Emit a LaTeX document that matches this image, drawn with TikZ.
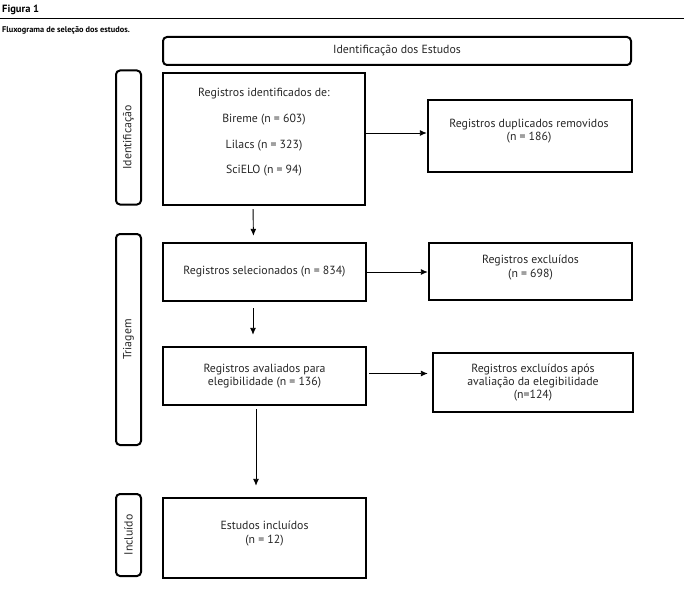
\documentclass[tikz,border=0pt]{standalone}
\usepackage{fontspec}
\setmainfont{PT Sans}
\usetikzlibrary{arrows.meta}
\begin{document}
\begin{tikzpicture}[x=1pt,y=-1pt,
  txt/.style={font=\fontsize{11.8}{13.2}\selectfont, text=black!85},
  stage/.style={draw, line width=2.4pt, inner sep=0pt, align=center, txt},
  side/.style={draw, line width=2pt, rounded corners=4pt, inner sep=0pt, minimum width=25pt, txt},
  arr/.style={line width=0.9pt, -{Latex[length=7pt,width=6pt]}}]
\useasboundingbox (0,0) rectangle (684,588);
% header
\node[anchor=base west, inner sep=0pt, font=\fontsize{10.5}{12}\bfseries\selectfont] (fig) at (2,13) {Figura 1};
\coordinate (hl) at (0,18.5);
\coordinate (hr) at (684,18.5);
\draw[line width=0.8pt] (hl) -- (hr);
\node[anchor=base west, inner sep=0pt, font=\fontsize{8.3}{10}\bfseries\selectfont] (cap) at (2,33) {Fluxograma de seleção dos estudos.};
% top box
\node[stage, line width=2pt, rounded corners=4pt, minimum width=468pt, minimum height=28pt] (top) at (397,51) {Identificação dos Estudos};
% side labels
\node[side, minimum height=134pt] (sI) at (128.5,137.5) {\rotatebox{90}{Identificação}};
\node[side, minimum height=211pt] (sT) at (128.5,339.5) {\rotatebox{90}{Triagem}};
\node[side, minimum height=82pt] (sC) at (128.5,535) {\rotatebox{90}{Incluído}};
% boxes
\node[stage, minimum width=202pt, minimum height=132pt] (ident) at (264,139) {};
\node[txt, align=center, font=\fontsize{11.8}{25.7}\selectfont] (identtxt) at (264,132.5) {Registros identificados de:\\Bireme (n = 603)\\Lilacs (n = 323)\\SciELO (n = 94)};
\node[stage, minimum width=204pt, minimum height=72pt] (dup) at (530,136) {};
\node[txt, align=center] (duptxt) at (529,131) {Registros duplicados removidos\\(n = 186)};
\node[stage, minimum width=203pt, minimum height=58pt] (sel) at (264.5,272) {Registros selecionados (n = 834)};
\node[stage, minimum width=203pt, minimum height=57pt] (exc) at (530.5,271.5) {};
\node[txt, align=center] (exctxt) at (530.5,267.5) {Registros excluídos\\(n = 698)};
\node[stage, minimum width=203pt, minimum height=58pt] (aval) at (264.5,376) {Registros avaliados para\\elegibilidade (n = 136)};
\node[stage, minimum width=200pt, minimum height=59pt] (apos) at (533,382.5) {Registros excluídos após\\avaliação da elegibilidade\\(n=124)};
\node[stage, minimum width=203pt, minimum height=80pt] (inc) at (264.5,538) {};
\node[txt, align=center] (inctxt) at (264.5,533.5) {Estudos incluídos\\(n = 12)};
% connectors
\coordinate (dupin) at ([yshift=3pt]dup.west);
\coordinate (aposin) at ([yshift=9pt]apos.west);
\draw[arr] (dupin -| ident.east) -- (dupin);
\draw[arr] (sel.east) -- (sel.east -| exc.west);
\draw[arr, shorten <=2pt, shorten >=4pt] (aposin -| aval.east) -- (aposin);
\draw[arr, shorten <=3pt, shorten >=6pt] ([xshift=-11pt]ident.south) -- ([xshift=-11pt]sel.north);
\draw[arr, shorten <=6pt, shorten >=11pt] ([xshift=-11.5pt]sel.south) -- ([xshift=-11.5pt]aval.north);
\draw[arr, shorten <=3pt, shorten >=11pt] ([xshift=-8.5pt]aval.south) -- ([xshift=-8.5pt]inc.north);
\end{tikzpicture}
\end{document}
